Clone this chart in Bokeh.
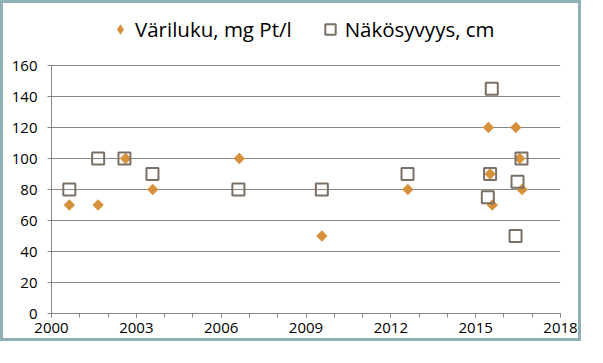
import numpy as np
from bokeh.plotting import figure
from bokeh.models import Range1d, FixedTicker, Legend, LegendItem
from bokeh.embed import file_html
from bokeh.resources import INLINE

# --- data ---
vari_label = "Väriluku, mg Pt/l"
vari_x = [2000.63, 2001.65, 2002.62, 2003.58, 2006.64, 2009.56, 2012.60,
          2015.45, 2015.51, 2015.59, 2016.42, 2016.56, 2016.64]
vari_y = [70, 70, 100, 80, 100, 50, 80, 120, 90, 70, 120, 100, 80]

nako_label = "Näkösyvyys, cm"
nako_x = [2000.63, 2001.65, 2002.58, 2003.57, 2006.61, 2009.56, 2012.59,
          2015.57, 2015.51, 2015.43, 2016.62, 2016.48, 2016.41]
nako_y = [80, 100, 100, 90, 80, 80, 90, 145, 90, 75, 100, 85, 50]

x_ticks = [2000, 2003, 2006, 2009, 2012, 2015, 2018]
x_minor = list(range(2000, 2019))
y_ticks = [0, 20, 40, 60, 80, 100, 120, 140, 160]

FONT = "Open Sans"
GRAY = "#868686"
ORANGE = "#d6913a"
BROWN = "#7a7066"

# y range extends above the top tick so the legend sits inside the frame
p = figure(width=581, height=341, output_backend="svg", toolbar_location=None,
           x_range=Range1d(x_ticks[0], x_ticks[-1]), y_range=Range1d(0, 200),
           min_border_left=48, min_border_right=24, min_border_top=0,
           min_border_bottom=31)
p.styles = {"border": "3px solid #8fb0b6"}
p.outline_line_color = None
p.background_fill_color = "white"
p.border_fill_color = "white"

p.xaxis.ticker = FixedTicker(ticks=x_ticks, minor_ticks=x_minor)
p.yaxis.ticker = FixedTicker(ticks=y_ticks)
p.yaxis.bounds = (y_ticks[0], y_ticks[-1])
p.xgrid.visible = False
p.ygrid.grid_line_color = GRAY
p.ygrid.grid_line_width = 1

for ax in (p.xaxis[0], p.yaxis[0]):
    ax.axis_line_color = GRAY
    ax.major_tick_line_color = GRAY
    ax.major_tick_in = 0
    ax.major_tick_out = 4
    ax.minor_tick_in = 0
    ax.minor_tick_out = 4
    ax.minor_tick_line_color = GRAY
    ax.major_label_text_font = FONT
    ax.major_label_text_font_size = "15px"
    ax.major_label_text_color = "#000000"
p.yaxis.minor_tick_line_color = None
p.xaxis.major_label_standoff = 5
p.yaxis.major_label_standoff = 10

# legend glyph for the first series (an unrotated diamond, hidden under the
# rotated-square marker of the same point, since legends draw markers unrotated)
r1_leg = p.scatter(vari_x[:1], vari_y[:1], marker="diamond", size=10,
                   fill_color=ORANGE, line_color=None)
r1 = p.scatter(vari_x, vari_y, marker="square", angle=np.pi / 4, size=8,
               fill_color=ORANGE, line_color=None)
r2 = p.scatter(nako_x, nako_y, marker="square", size=12, fill_color=None,
               line_color=BROWN, line_width=2)

legend = Legend(items=[LegendItem(label=vari_label, renderers=[r1_leg]),
                       LegendItem(label=nako_label, renderers=[r2])],
                orientation="horizontal", location=(56, 270))
legend.background_fill_alpha = 0
legend.border_line_color = None
legend.padding = 0
legend.margin = 0
legend.spacing = 25
legend.glyph_width = 26
legend.glyph_height = 26
legend.label_standoff = 2
legend.label_text_font = FONT
legend.label_text_font_size = "20.5px"
legend.label_text_color = "#000000"
p.add_layout(legend)

open("out.html", "w").write(file_html(p, INLINE))
